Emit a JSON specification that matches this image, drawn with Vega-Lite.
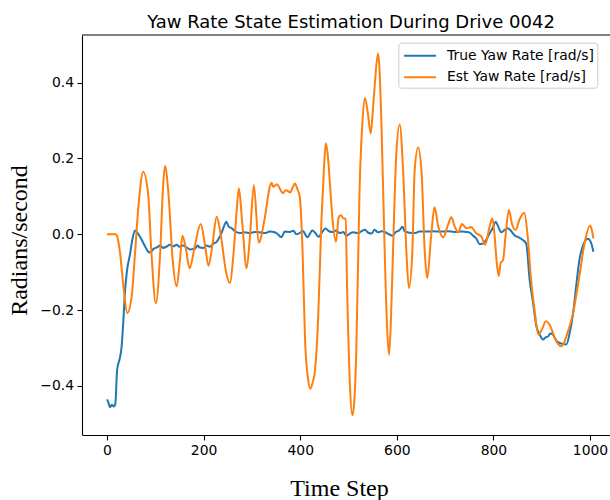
{
  "$schema": "https://vega.github.io/schema/vega-lite/v6.json",
  "width": 528,
  "height": 400,
  "autosize": {"type": "none"},
  "padding": {"left": 82, "top": 35, "right": 0, "bottom": 65},
  "background": "white",
  "config": {
    "view": {"stroke": null},
    "axis": {
      "grid": false,
      "domainColor": "black",
      "domainWidth": 1.1,
      "tickColor": "black",
      "tickWidth": 1.1,
      "tickSize": 5,
      "labelPadding": 3.5,
      "labelFont": "DejaVu Sans",
      "labelFontSize": 13.9,
      "labelColor": "black",
      "titleFont": "Liberation Serif",
      "titleFontSize": 24,
      "titleFontWeight": "normal",
      "titleColor": "black"
    },
    "title": {"font": "DejaVu Sans", "fontSize": 18, "fontWeight": "normal", "color": "black"}
  },
  "title": {"text": "Yaw Rate State Estimation During Drive 0042", "anchor": "middle", "frame": "group", "baseline": "alphabetic", "offset": 8.3, "dx": 5, "dy": 20},
  "data": {"values": [
    {"t": 0, "v": -0.436, "s": "True Yaw Rate [rad/s]"},
    {"t": 3, "v": -0.445, "s": "True Yaw Rate [rad/s]"},
    {"t": 6, "v": -0.457, "s": "True Yaw Rate [rad/s]"},
    {"t": 10, "v": -0.45, "s": "True Yaw Rate [rad/s]"},
    {"t": 14, "v": -0.455, "s": "True Yaw Rate [rad/s]"},
    {"t": 17, "v": -0.45, "s": "True Yaw Rate [rad/s]"},
    {"t": 21, "v": -0.357, "s": "True Yaw Rate [rad/s]"},
    {"t": 26, "v": -0.33, "s": "True Yaw Rate [rad/s]"},
    {"t": 30, "v": -0.3, "s": "True Yaw Rate [rad/s]"},
    {"t": 34, "v": -0.225, "s": "True Yaw Rate [rad/s]"},
    {"t": 37, "v": -0.155, "s": "True Yaw Rate [rad/s]"},
    {"t": 41, "v": -0.1, "s": "True Yaw Rate [rad/s]"},
    {"t": 48, "v": -0.05, "s": "True Yaw Rate [rad/s]"},
    {"t": 53, "v": -0.01, "s": "True Yaw Rate [rad/s]"},
    {"t": 58, "v": 0.01, "s": "True Yaw Rate [rad/s]"},
    {"t": 65, "v": 0.0, "s": "True Yaw Rate [rad/s]"},
    {"t": 72, "v": -0.015, "s": "True Yaw Rate [rad/s]"},
    {"t": 78, "v": -0.03, "s": "True Yaw Rate [rad/s]"},
    {"t": 82, "v": -0.04, "s": "True Yaw Rate [rad/s]"},
    {"t": 88, "v": -0.048, "s": "True Yaw Rate [rad/s]"},
    {"t": 92, "v": -0.045, "s": "True Yaw Rate [rad/s]"},
    {"t": 97, "v": -0.038, "s": "True Yaw Rate [rad/s]"},
    {"t": 103, "v": -0.035, "s": "True Yaw Rate [rad/s]"},
    {"t": 110, "v": -0.03, "s": "True Yaw Rate [rad/s]"},
    {"t": 116, "v": -0.036, "s": "True Yaw Rate [rad/s]"},
    {"t": 123, "v": -0.033, "s": "True Yaw Rate [rad/s]"},
    {"t": 130, "v": -0.028, "s": "True Yaw Rate [rad/s]"},
    {"t": 137, "v": -0.032, "s": "True Yaw Rate [rad/s]"},
    {"t": 144, "v": -0.028, "s": "True Yaw Rate [rad/s]"},
    {"t": 150, "v": -0.033, "s": "True Yaw Rate [rad/s]"},
    {"t": 158, "v": -0.03, "s": "True Yaw Rate [rad/s]"},
    {"t": 165, "v": -0.035, "s": "True Yaw Rate [rad/s]"},
    {"t": 172, "v": -0.04, "s": "True Yaw Rate [rad/s]"},
    {"t": 182, "v": -0.038, "s": "True Yaw Rate [rad/s]"},
    {"t": 188, "v": -0.03, "s": "True Yaw Rate [rad/s]"},
    {"t": 192, "v": -0.035, "s": "True Yaw Rate [rad/s]"},
    {"t": 200, "v": -0.036, "s": "True Yaw Rate [rad/s]"},
    {"t": 206, "v": -0.03, "s": "True Yaw Rate [rad/s]"},
    {"t": 213, "v": -0.033, "s": "True Yaw Rate [rad/s]"},
    {"t": 220, "v": -0.025, "s": "True Yaw Rate [rad/s]"},
    {"t": 227, "v": -0.02, "s": "True Yaw Rate [rad/s]"},
    {"t": 232, "v": -0.01, "s": "True Yaw Rate [rad/s]"},
    {"t": 237, "v": 0.003, "s": "True Yaw Rate [rad/s]"},
    {"t": 242, "v": 0.02, "s": "True Yaw Rate [rad/s]"},
    {"t": 247, "v": 0.033, "s": "True Yaw Rate [rad/s]"},
    {"t": 252, "v": 0.02, "s": "True Yaw Rate [rad/s]"},
    {"t": 258, "v": 0.016, "s": "True Yaw Rate [rad/s]"},
    {"t": 265, "v": 0.008, "s": "True Yaw Rate [rad/s]"},
    {"t": 275, "v": 0.003, "s": "True Yaw Rate [rad/s]"},
    {"t": 285, "v": 0.005, "s": "True Yaw Rate [rad/s]"},
    {"t": 296, "v": 0.003, "s": "True Yaw Rate [rad/s]"},
    {"t": 306, "v": 0.006, "s": "True Yaw Rate [rad/s]"},
    {"t": 316, "v": 0.005, "s": "True Yaw Rate [rad/s]"},
    {"t": 327, "v": 0.003, "s": "True Yaw Rate [rad/s]"},
    {"t": 337, "v": 0.007, "s": "True Yaw Rate [rad/s]"},
    {"t": 345, "v": 0.006, "s": "True Yaw Rate [rad/s]"},
    {"t": 352, "v": 0.002, "s": "True Yaw Rate [rad/s]"},
    {"t": 361, "v": -0.008, "s": "True Yaw Rate [rad/s]"},
    {"t": 368, "v": 0.007, "s": "True Yaw Rate [rad/s]"},
    {"t": 378, "v": 0.006, "s": "True Yaw Rate [rad/s]"},
    {"t": 386, "v": 0.009, "s": "True Yaw Rate [rad/s]"},
    {"t": 392, "v": 0.0, "s": "True Yaw Rate [rad/s]"},
    {"t": 400, "v": 0.004, "s": "True Yaw Rate [rad/s]"},
    {"t": 405, "v": 0.009, "s": "True Yaw Rate [rad/s]"},
    {"t": 415, "v": -0.008, "s": "True Yaw Rate [rad/s]"},
    {"t": 425, "v": 0.01, "s": "True Yaw Rate [rad/s]"},
    {"t": 432, "v": 0.002, "s": "True Yaw Rate [rad/s]"},
    {"t": 438, "v": -0.007, "s": "True Yaw Rate [rad/s]"},
    {"t": 445, "v": 0.005, "s": "True Yaw Rate [rad/s]"},
    {"t": 452, "v": 0.015, "s": "True Yaw Rate [rad/s]"},
    {"t": 460, "v": 0.008, "s": "True Yaw Rate [rad/s]"},
    {"t": 467, "v": 0.006, "s": "True Yaw Rate [rad/s]"},
    {"t": 475, "v": 0.01, "s": "True Yaw Rate [rad/s]"},
    {"t": 482, "v": 0.003, "s": "True Yaw Rate [rad/s]"},
    {"t": 489, "v": 0.006, "s": "True Yaw Rate [rad/s]"},
    {"t": 496, "v": -0.004, "s": "True Yaw Rate [rad/s]"},
    {"t": 503, "v": 0.002, "s": "True Yaw Rate [rad/s]"},
    {"t": 510, "v": 0.005, "s": "True Yaw Rate [rad/s]"},
    {"t": 520, "v": 0.003, "s": "True Yaw Rate [rad/s]"},
    {"t": 527, "v": 0.008, "s": "True Yaw Rate [rad/s]"},
    {"t": 534, "v": 0.012, "s": "True Yaw Rate [rad/s]"},
    {"t": 541, "v": 0.004, "s": "True Yaw Rate [rad/s]"},
    {"t": 548, "v": 0.002, "s": "True Yaw Rate [rad/s]"},
    {"t": 554, "v": 0.012, "s": "True Yaw Rate [rad/s]"},
    {"t": 561, "v": 0.005, "s": "True Yaw Rate [rad/s]"},
    {"t": 568, "v": 0.008, "s": "True Yaw Rate [rad/s]"},
    {"t": 575, "v": 0.006, "s": "True Yaw Rate [rad/s]"},
    {"t": 584, "v": 0.0, "s": "True Yaw Rate [rad/s]"},
    {"t": 591, "v": -0.004, "s": "True Yaw Rate [rad/s]"},
    {"t": 598, "v": 0.006, "s": "True Yaw Rate [rad/s]"},
    {"t": 605, "v": 0.01, "s": "True Yaw Rate [rad/s]"},
    {"t": 612, "v": 0.02, "s": "True Yaw Rate [rad/s]"},
    {"t": 616, "v": 0.008, "s": "True Yaw Rate [rad/s]"},
    {"t": 626, "v": 0.004, "s": "True Yaw Rate [rad/s]"},
    {"t": 637, "v": 0.003, "s": "True Yaw Rate [rad/s]"},
    {"t": 647, "v": 0.007, "s": "True Yaw Rate [rad/s]"},
    {"t": 660, "v": 0.007, "s": "True Yaw Rate [rad/s]"},
    {"t": 675, "v": 0.008, "s": "True Yaw Rate [rad/s]"},
    {"t": 690, "v": 0.007, "s": "True Yaw Rate [rad/s]"},
    {"t": 705, "v": 0.008, "s": "True Yaw Rate [rad/s]"},
    {"t": 720, "v": 0.006, "s": "True Yaw Rate [rad/s]"},
    {"t": 735, "v": 0.007, "s": "True Yaw Rate [rad/s]"},
    {"t": 745, "v": 0.006, "s": "True Yaw Rate [rad/s]"},
    {"t": 751, "v": 0.004, "s": "True Yaw Rate [rad/s]"},
    {"t": 758, "v": -0.004, "s": "True Yaw Rate [rad/s]"},
    {"t": 765, "v": -0.012, "s": "True Yaw Rate [rad/s]"},
    {"t": 771, "v": -0.026, "s": "True Yaw Rate [rad/s]"},
    {"t": 778, "v": -0.025, "s": "True Yaw Rate [rad/s]"},
    {"t": 785, "v": -0.015, "s": "True Yaw Rate [rad/s]"},
    {"t": 792, "v": 0.002, "s": "True Yaw Rate [rad/s]"},
    {"t": 798, "v": 0.015, "s": "True Yaw Rate [rad/s]"},
    {"t": 805, "v": 0.033, "s": "True Yaw Rate [rad/s]"},
    {"t": 810, "v": 0.02, "s": "True Yaw Rate [rad/s]"},
    {"t": 816, "v": 0.005, "s": "True Yaw Rate [rad/s]"},
    {"t": 822, "v": 0.01, "s": "True Yaw Rate [rad/s]"},
    {"t": 830, "v": 0.016, "s": "True Yaw Rate [rad/s]"},
    {"t": 837, "v": 0.008, "s": "True Yaw Rate [rad/s]"},
    {"t": 844, "v": -0.003, "s": "True Yaw Rate [rad/s]"},
    {"t": 852, "v": -0.008, "s": "True Yaw Rate [rad/s]"},
    {"t": 861, "v": -0.015, "s": "True Yaw Rate [rad/s]"},
    {"t": 868, "v": -0.025, "s": "True Yaw Rate [rad/s]"},
    {"t": 875, "v": -0.12, "s": "True Yaw Rate [rad/s]"},
    {"t": 882, "v": -0.18, "s": "True Yaw Rate [rad/s]"},
    {"t": 889, "v": -0.243, "s": "True Yaw Rate [rad/s]"},
    {"t": 896, "v": -0.265, "s": "True Yaw Rate [rad/s]"},
    {"t": 903, "v": -0.278, "s": "True Yaw Rate [rad/s]"},
    {"t": 908, "v": -0.272, "s": "True Yaw Rate [rad/s]"},
    {"t": 913, "v": -0.27, "s": "True Yaw Rate [rad/s]"},
    {"t": 918, "v": -0.262, "s": "True Yaw Rate [rad/s]"},
    {"t": 923, "v": -0.265, "s": "True Yaw Rate [rad/s]"},
    {"t": 930, "v": -0.28, "s": "True Yaw Rate [rad/s]"},
    {"t": 937, "v": -0.287, "s": "True Yaw Rate [rad/s]"},
    {"t": 944, "v": -0.29, "s": "True Yaw Rate [rad/s]"},
    {"t": 951, "v": -0.291, "s": "True Yaw Rate [rad/s]"},
    {"t": 958, "v": -0.26, "s": "True Yaw Rate [rad/s]"},
    {"t": 965, "v": -0.208, "s": "True Yaw Rate [rad/s]"},
    {"t": 972, "v": -0.13, "s": "True Yaw Rate [rad/s]"},
    {"t": 978, "v": -0.068, "s": "True Yaw Rate [rad/s]"},
    {"t": 984, "v": -0.035, "s": "True Yaw Rate [rad/s]"},
    {"t": 989, "v": -0.02, "s": "True Yaw Rate [rad/s]"},
    {"t": 995, "v": -0.012, "s": "True Yaw Rate [rad/s]"},
    {"t": 999, "v": -0.015, "s": "True Yaw Rate [rad/s]"},
    {"t": 1003, "v": -0.025, "s": "True Yaw Rate [rad/s]"},
    {"t": 1007, "v": -0.046, "s": "True Yaw Rate [rad/s]"},
    {"t": 0, "v": 0.0, "s": "Est Yaw Rate [rad/s]"},
    {"t": 10, "v": 0.0, "s": "Est Yaw Rate [rad/s]"},
    {"t": 18, "v": 0.0, "s": "Est Yaw Rate [rad/s]"},
    {"t": 22, "v": -0.01, "s": "Est Yaw Rate [rad/s]"},
    {"t": 27, "v": -0.05, "s": "Est Yaw Rate [rad/s]"},
    {"t": 34, "v": -0.138, "s": "Est Yaw Rate [rad/s]"},
    {"t": 42, "v": -0.208, "s": "Est Yaw Rate [rad/s]"},
    {"t": 51, "v": -0.165, "s": "Est Yaw Rate [rad/s]"},
    {"t": 58, "v": -0.05, "s": "Est Yaw Rate [rad/s]"},
    {"t": 65, "v": 0.073, "s": "Est Yaw Rate [rad/s]"},
    {"t": 75, "v": 0.165, "s": "Est Yaw Rate [rad/s]"},
    {"t": 85, "v": 0.108, "s": "Est Yaw Rate [rad/s]"},
    {"t": 92, "v": -0.05, "s": "Est Yaw Rate [rad/s]"},
    {"t": 101, "v": -0.182, "s": "Est Yaw Rate [rad/s]"},
    {"t": 110, "v": -0.05, "s": "Est Yaw Rate [rad/s]"},
    {"t": 116, "v": 0.125, "s": "Est Yaw Rate [rad/s]"},
    {"t": 120, "v": 0.18, "s": "Est Yaw Rate [rad/s]"},
    {"t": 127, "v": 0.11, "s": "Est Yaw Rate [rad/s]"},
    {"t": 136, "v": -0.068, "s": "Est Yaw Rate [rad/s]"},
    {"t": 144, "v": -0.138, "s": "Est Yaw Rate [rad/s]"},
    {"t": 151, "v": -0.068, "s": "Est Yaw Rate [rad/s]"},
    {"t": 156, "v": -0.004, "s": "Est Yaw Rate [rad/s]"},
    {"t": 163, "v": -0.036, "s": "Est Yaw Rate [rad/s]"},
    {"t": 171, "v": -0.09, "s": "Est Yaw Rate [rad/s]"},
    {"t": 182, "v": -0.03, "s": "Est Yaw Rate [rad/s]"},
    {"t": 194, "v": 0.027, "s": "Est Yaw Rate [rad/s]"},
    {"t": 203, "v": -0.03, "s": "Est Yaw Rate [rad/s]"},
    {"t": 210, "v": -0.083, "s": "Est Yaw Rate [rad/s]"},
    {"t": 218, "v": -0.03, "s": "Est Yaw Rate [rad/s]"},
    {"t": 227, "v": 0.046, "s": "Est Yaw Rate [rad/s]"},
    {"t": 235, "v": 0.002, "s": "Est Yaw Rate [rad/s]"},
    {"t": 247, "v": -0.103, "s": "Est Yaw Rate [rad/s]"},
    {"t": 254, "v": -0.129, "s": "Est Yaw Rate [rad/s]"},
    {"t": 262, "v": -0.05, "s": "Est Yaw Rate [rad/s]"},
    {"t": 268, "v": 0.055, "s": "Est Yaw Rate [rad/s]"},
    {"t": 273, "v": 0.121, "s": "Est Yaw Rate [rad/s]"},
    {"t": 280, "v": 0.03, "s": "Est Yaw Rate [rad/s]"},
    {"t": 289, "v": -0.09, "s": "Est Yaw Rate [rad/s]"},
    {"t": 296, "v": -0.005, "s": "Est Yaw Rate [rad/s]"},
    {"t": 304, "v": 0.13, "s": "Est Yaw Rate [rad/s]"},
    {"t": 314, "v": -0.022, "s": "Est Yaw Rate [rad/s]"},
    {"t": 327, "v": 0.046, "s": "Est Yaw Rate [rad/s]"},
    {"t": 337, "v": 0.125, "s": "Est Yaw Rate [rad/s]"},
    {"t": 341, "v": 0.136, "s": "Est Yaw Rate [rad/s]"},
    {"t": 344, "v": 0.125, "s": "Est Yaw Rate [rad/s]"},
    {"t": 352, "v": 0.132, "s": "Est Yaw Rate [rad/s]"},
    {"t": 358, "v": 0.12, "s": "Est Yaw Rate [rad/s]"},
    {"t": 364, "v": 0.108, "s": "Est Yaw Rate [rad/s]"},
    {"t": 370, "v": 0.116, "s": "Est Yaw Rate [rad/s]"},
    {"t": 375, "v": 0.114, "s": "Est Yaw Rate [rad/s]"},
    {"t": 379, "v": 0.11, "s": "Est Yaw Rate [rad/s]"},
    {"t": 384, "v": 0.122, "s": "Est Yaw Rate [rad/s]"},
    {"t": 389, "v": 0.134, "s": "Est Yaw Rate [rad/s]"},
    {"t": 394, "v": 0.12, "s": "Est Yaw Rate [rad/s]"},
    {"t": 399, "v": 0.099, "s": "Est Yaw Rate [rad/s]"},
    {"t": 405, "v": -0.05, "s": "Est Yaw Rate [rad/s]"},
    {"t": 410, "v": -0.278, "s": "Est Yaw Rate [rad/s]"},
    {"t": 416, "v": -0.38, "s": "Est Yaw Rate [rad/s]"},
    {"t": 421, "v": -0.408, "s": "Est Yaw Rate [rad/s]"},
    {"t": 426, "v": -0.39, "s": "Est Yaw Rate [rad/s]"},
    {"t": 430, "v": -0.366, "s": "Est Yaw Rate [rad/s]"},
    {"t": 437, "v": -0.226, "s": "Est Yaw Rate [rad/s]"},
    {"t": 444, "v": 0.038, "s": "Est Yaw Rate [rad/s]"},
    {"t": 449, "v": 0.17, "s": "Est Yaw Rate [rad/s]"},
    {"t": 453, "v": 0.24, "s": "Est Yaw Rate [rad/s]"},
    {"t": 457, "v": 0.21, "s": "Est Yaw Rate [rad/s]"},
    {"t": 461, "v": 0.143, "s": "Est Yaw Rate [rad/s]"},
    {"t": 467, "v": 0.038, "s": "Est Yaw Rate [rad/s]"},
    {"t": 474, "v": -0.02, "s": "Est Yaw Rate [rad/s]"},
    {"t": 480, "v": 0.046, "s": "Est Yaw Rate [rad/s]"},
    {"t": 484, "v": 0.05, "s": "Est Yaw Rate [rad/s]"},
    {"t": 489, "v": 0.043, "s": "Est Yaw Rate [rad/s]"},
    {"t": 494, "v": 0.04, "s": "Est Yaw Rate [rad/s]"},
    {"t": 497, "v": -0.138, "s": "Est Yaw Rate [rad/s]"},
    {"t": 503, "v": -0.4, "s": "Est Yaw Rate [rad/s]"},
    {"t": 508, "v": -0.478, "s": "Est Yaw Rate [rad/s]"},
    {"t": 512, "v": -0.44, "s": "Est Yaw Rate [rad/s]"},
    {"t": 516, "v": -0.313, "s": "Est Yaw Rate [rad/s]"},
    {"t": 523, "v": 0.125, "s": "Est Yaw Rate [rad/s]"},
    {"t": 529, "v": 0.3, "s": "Est Yaw Rate [rad/s]"},
    {"t": 534, "v": 0.36, "s": "Est Yaw Rate [rad/s]"},
    {"t": 540, "v": 0.32, "s": "Est Yaw Rate [rad/s]"},
    {"t": 546, "v": 0.266, "s": "Est Yaw Rate [rad/s]"},
    {"t": 550, "v": 0.32, "s": "Est Yaw Rate [rad/s]"},
    {"t": 554, "v": 0.388, "s": "Est Yaw Rate [rad/s]"},
    {"t": 561, "v": 0.478, "s": "Est Yaw Rate [rad/s]"},
    {"t": 564, "v": 0.44, "s": "Est Yaw Rate [rad/s]"},
    {"t": 568, "v": 0.3, "s": "Est Yaw Rate [rad/s]"},
    {"t": 575, "v": -0.05, "s": "Est Yaw Rate [rad/s]"},
    {"t": 580, "v": -0.25, "s": "Est Yaw Rate [rad/s]"},
    {"t": 584, "v": -0.318, "s": "Est Yaw Rate [rad/s]"},
    {"t": 588, "v": -0.22, "s": "Est Yaw Rate [rad/s]"},
    {"t": 592, "v": -0.05, "s": "Est Yaw Rate [rad/s]"},
    {"t": 599, "v": 0.213, "s": "Est Yaw Rate [rad/s]"},
    {"t": 606, "v": 0.29, "s": "Est Yaw Rate [rad/s]"},
    {"t": 613, "v": 0.169, "s": "Est Yaw Rate [rad/s]"},
    {"t": 620, "v": -0.05, "s": "Est Yaw Rate [rad/s]"},
    {"t": 625, "v": -0.142, "s": "Est Yaw Rate [rad/s]"},
    {"t": 632, "v": -0.05, "s": "Est Yaw Rate [rad/s]"},
    {"t": 637, "v": 0.169, "s": "Est Yaw Rate [rad/s]"},
    {"t": 644, "v": 0.229, "s": "Est Yaw Rate [rad/s]"},
    {"t": 651, "v": 0.169, "s": "Est Yaw Rate [rad/s]"},
    {"t": 658, "v": -0.05, "s": "Est Yaw Rate [rad/s]"},
    {"t": 663, "v": -0.116, "s": "Est Yaw Rate [rad/s]"},
    {"t": 671, "v": -0.006, "s": "Est Yaw Rate [rad/s]"},
    {"t": 678, "v": 0.071, "s": "Est Yaw Rate [rad/s]"},
    {"t": 686, "v": 0.02, "s": "Est Yaw Rate [rad/s]"},
    {"t": 696, "v": -0.008, "s": "Est Yaw Rate [rad/s]"},
    {"t": 706, "v": 0.025, "s": "Est Yaw Rate [rad/s]"},
    {"t": 713, "v": 0.045, "s": "Est Yaw Rate [rad/s]"},
    {"t": 720, "v": 0.02, "s": "Est Yaw Rate [rad/s]"},
    {"t": 727, "v": 0.005, "s": "Est Yaw Rate [rad/s]"},
    {"t": 735, "v": 0.027, "s": "Est Yaw Rate [rad/s]"},
    {"t": 744, "v": 0.016, "s": "Est Yaw Rate [rad/s]"},
    {"t": 754, "v": 0.019, "s": "Est Yaw Rate [rad/s]"},
    {"t": 764, "v": 0.003, "s": "Est Yaw Rate [rad/s]"},
    {"t": 775, "v": -0.006, "s": "Est Yaw Rate [rad/s]"},
    {"t": 783, "v": -0.028, "s": "Est Yaw Rate [rad/s]"},
    {"t": 792, "v": 0.02, "s": "Est Yaw Rate [rad/s]"},
    {"t": 798, "v": 0.042, "s": "Est Yaw Rate [rad/s]"},
    {"t": 802, "v": 0.003, "s": "Est Yaw Rate [rad/s]"},
    {"t": 807, "v": -0.076, "s": "Est Yaw Rate [rad/s]"},
    {"t": 811, "v": -0.11, "s": "Est Yaw Rate [rad/s]"},
    {"t": 815, "v": -0.076, "s": "Est Yaw Rate [rad/s]"},
    {"t": 820, "v": -0.068, "s": "Est Yaw Rate [rad/s]"},
    {"t": 825, "v": -0.006, "s": "Est Yaw Rate [rad/s]"},
    {"t": 832, "v": 0.064, "s": "Est Yaw Rate [rad/s]"},
    {"t": 839, "v": 0.025, "s": "Est Yaw Rate [rad/s]"},
    {"t": 846, "v": 0.011, "s": "Est Yaw Rate [rad/s]"},
    {"t": 854, "v": 0.039, "s": "Est Yaw Rate [rad/s]"},
    {"t": 864, "v": 0.057, "s": "Est Yaw Rate [rad/s]"},
    {"t": 871, "v": -0.006, "s": "Est Yaw Rate [rad/s]"},
    {"t": 878, "v": -0.12, "s": "Est Yaw Rate [rad/s]"},
    {"t": 886, "v": -0.208, "s": "Est Yaw Rate [rad/s]"},
    {"t": 893, "v": -0.265, "s": "Est Yaw Rate [rad/s]"},
    {"t": 900, "v": -0.252, "s": "Est Yaw Rate [rad/s]"},
    {"t": 909, "v": -0.23, "s": "Est Yaw Rate [rad/s]"},
    {"t": 919, "v": -0.246, "s": "Est Yaw Rate [rad/s]"},
    {"t": 927, "v": -0.274, "s": "Est Yaw Rate [rad/s]"},
    {"t": 934, "v": -0.29, "s": "Est Yaw Rate [rad/s]"},
    {"t": 940, "v": -0.296, "s": "Est Yaw Rate [rad/s]"},
    {"t": 945, "v": -0.29, "s": "Est Yaw Rate [rad/s]"},
    {"t": 951, "v": -0.27, "s": "Est Yaw Rate [rad/s]"},
    {"t": 965, "v": -0.208, "s": "Est Yaw Rate [rad/s]"},
    {"t": 978, "v": -0.11, "s": "Est Yaw Rate [rad/s]"},
    {"t": 990, "v": -0.015, "s": "Est Yaw Rate [rad/s]"},
    {"t": 1000, "v": 0.023, "s": "Est Yaw Rate [rad/s]"},
    {"t": 1004, "v": 0.01, "s": "Est Yaw Rate [rad/s]"},
    {"t": 1007, "v": -0.011, "s": "Est Yaw Rate [rad/s]"}
  ]},
  "layer": [
    {
      "mark": {"type": "line", "interpolate": "monotone", "strokeWidth": 2, "clip": true},
      "encoding": {
        "x": {"field": "t", "type": "quantitative",
              "scale": {"domain": [-51.8, 1041.4], "nice": false, "zero": false},
              "axis": {"values": [0, 200, 400, 600, 800, 1000], "format": "d", "title": "Time Step",
                       "titleX": 257, "titleY": 60, "titleBaseline": "alphabetic", "titleAlign": "center"}},
        "y": {"field": "v", "type": "quantitative",
              "scale": {"domain": [-0.53, 0.526], "nice": false, "zero": false},
              "axis": {"values": [-0.4, -0.2, 0, 0.2, 0.4], "format": ".1f", "title": "Radians/second",
                       "titleX": -56, "titleY": 205, "titleAngle": -90, "titleBaseline": "alphabetic", "titleAlign": "center"}},
        "color": {"field": "s", "type": "nominal",
                  "scale": {"domain": ["True Yaw Rate [rad/s]", "Est Yaw Rate [rad/s]"], "range": ["#1f77b4", "#ff7f0e"]},
                  "legend": {"title": null, "orient": "none", "legendX": 316.3, "legendY": 7.7,
                             "fillColor": "rgba(255,255,255,0.8)", "strokeColor": "#cccccc", "cornerRadius": 3,
                             "padding": 3, "symbolType": "M-0.8,0H2.75", "symbolSize": 324, "symbolStrokeWidth": 2,
                             "labelFont": "DejaVu Sans", "labelFontSize": 13.9, "labelColor": "black",
                             "labelOffset": 25.7, "rowPadding": 4.5}},
        "order": {"field": "t", "type": "quantitative"}
      }
    },
    {
      "data": {"values": [{}]},
      "mark": {"type": "rule", "color": "black", "strokeWidth": 1.1},
      "encoding": {"y": {"datum": 0.526}}
    }
  ]
}
